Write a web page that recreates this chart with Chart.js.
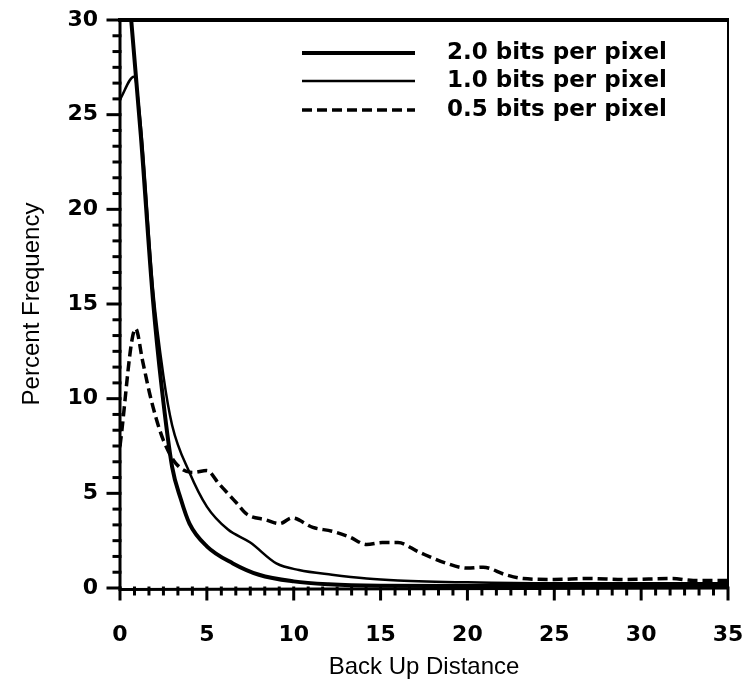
<!DOCTYPE html>
<html>
<head>
<meta charset="utf-8">
<script src="https://cdn.jsdelivr.net/npm/chart.js@4.4.1/dist/chart.umd.min.js"></script>
<style>
  html, body { margin: 0; padding: 0; background: #fff; }
</style>
</head>
<body>
<canvas id="chart" width="748" height="684"></canvas>
<script>
// back up distance (x) and percent frequency (y) for each bit rate
const dist20 = [0, 1.2, 1.9, 2.4, 3.0, 3.5, 4.0, 5.0, 6.5, 8.0, 10.0, 12.0, 15.0, 20.0, 25.0, 30.0, 35.0];
const freq20 = [37, 23.9, 15.2, 10.6, 6.4, 4.7, 3.4, 2.2, 1.3, 0.7, 0.35, 0.2, 0.12, 0.1, 0.1, 0.1, 0.1];

const dist10 = [0, 0.8, 1.2, 1.9, 2.5, 3.0, 4.0, 5.0, 6.2, 7.5, 9.0, 10.3, 12.2, 14.2, 16.0, 20.0, 25.0, 30.0, 35.0];
const freq10 = [25.8, 27.0, 24.4, 15.8, 11.2, 8.6, 6.1, 4.3, 3.1, 2.4, 1.3, 0.95, 0.7, 0.5, 0.4, 0.3, 0.25, 0.25, 0.25];

const dist05 = [0, 0.9, 1.3, 1.7, 2.1, 2.5, 3.2, 4.2, 5.0, 5.7, 6.7, 7.3, 8.4, 9.2, 9.9, 11.1, 12.2, 13.2, 14.2, 15.1, 16.0,
                17.2, 18.8, 20.0, 20.9, 22.2, 23.2, 25.0, 27.0, 29.0, 31.8, 33.0, 35.0];
const freq05 = [7.5, 13.7, 12.0, 10.3, 8.9, 7.8, 6.6, 6.1, 6.2, 5.5, 4.5, 3.9, 3.6, 3.4, 3.7, 3.2, 3.0, 2.7, 2.3, 2.4, 2.4,
                1.9, 1.3, 1.05, 1.1, 0.7, 0.5, 0.45, 0.5, 0.45, 0.5, 0.4, 0.4];

const seriesLabels = ["2.0 bits per pixel", "1.0 bits per pixel", "0.5 bits per pixel"];
const xTitle = "Back Up Distance";
const yTitle = "Percent Frequency";
const xMax = 35;
const yMax = 30;

function pts(xs, ys) {
  return xs.map((x, i) => ({ x: x, y: ys[i] }));
}

const tickFont = { family: "DejaVu Sans", weight: "bold", size: 22 };
const titleFont = { family: "Liberation Sans", size: 24 };

// axis frame, minor/major ticks (every 5/6 unit, major every 5)
const framePlugin = {
  id: "frame",
  afterDatasetsDraw(chart) {
    const ctx = chart.ctx;
    const a = chart.chartArea;
    const xs = chart.scales.x, ys = chart.scales.y;
    ctx.save();
    ctx.strokeStyle = "#000";
    ctx.lineCap = "square";
    ctx.lineWidth = 3;
    for (let i = 0; i <= 42; i++) {
      const px = xs.getPixelForValue(i * 5 / 6);
      const len = i % 6 === 0 ? 11 : 6;
      ctx.beginPath();
      ctx.moveTo(px, a.bottom);
      ctx.lineTo(px, a.bottom + len);
      ctx.stroke();
    }
    for (let i = 0; i <= 36; i++) {
      const py = ys.getPixelForValue(i * 5 / 6);
      const len = i % 6 === 0 ? 12 : 6;
      ctx.beginPath();
      ctx.moveTo(a.left, py);
      ctx.lineTo(a.left - len, py);
      ctx.stroke();
    }
    ctx.lineCap = "butt";
    ctx.lineWidth = 3;
    ctx.beginPath();
    ctx.moveTo(a.left, a.top - 2);
    ctx.lineTo(a.left, a.bottom + 1.5);
    ctx.lineTo(a.right + 1, a.bottom);
    ctx.stroke();
    ctx.lineWidth = 4;
    ctx.beginPath();
    ctx.moveTo(a.left - 2, a.top);
    ctx.lineTo(a.right + 1, a.top);
    ctx.stroke();
    ctx.lineWidth = 2;
    ctx.beginPath();
    ctx.moveTo(a.right, a.top);
    ctx.lineTo(a.right, a.bottom);
    ctx.stroke();
    ctx.restore();
  }
};

// legend drawn inside the plot, upper right
const legendPlugin = {
  id: "insideLegend",
  afterDraw(chart) {
    const ctx = chart.ctx;
    const rows = [53, 81, 110];
    ctx.save();
    chart.data.datasets.forEach((ds, i) => {
      const y = rows[i];
      ctx.strokeStyle = ds.borderColor;
      ctx.lineWidth = ds.borderWidth;
      ctx.setLineDash(ds.borderDash || []);
      ctx.beginPath();
      ctx.moveTo(302, y);
      ctx.lineTo(415, y);
      ctx.stroke();
      ctx.setLineDash([]);
      ctx.fillStyle = "#000";
      ctx.font = "bold 23px 'DejaVu Sans'";
      ctx.textBaseline = "middle";
      ctx.fillText(ds.label, 447, y);
    });
    ctx.restore();
  }
};

new Chart(document.getElementById("chart"), {
  type: "line",
  data: {
    datasets: [
      { label: seriesLabels[0], data: pts(dist20, freq20), borderColor: "#000", borderWidth: 4, pointRadius: 0, cubicInterpolationMode: "monotone" },
      { label: seriesLabels[1], data: pts(dist10, freq10), borderColor: "#000", borderWidth: 2.5, pointRadius: 0, cubicInterpolationMode: "monotone" },
      { label: seriesLabels[2], data: pts(dist05, freq05), borderColor: "#000", borderWidth: 3.5, borderDash: [10, 5], pointRadius: 0, cubicInterpolationMode: "monotone" }
    ]
  },
  options: {
    responsive: false,
    animation: false,
    layout: { padding: { top: 20, right: 20, left: 0, bottom: 0 } },
    plugins: { legend: { display: false }, tooltip: { enabled: false } },
    scales: {
      x: {
        type: "linear",
        min: 0,
        max: xMax,
        afterFit(scale) { scale.height = 96; scale.paddingLeft = 0; scale.paddingRight = 0; },
        border: { display: false },
        grid: { drawOnChartArea: false, drawTicks: true, tickLength: 12, tickColor: "rgba(0,0,0,0)" },
        ticks: { stepSize: 5, color: "#000", font: tickFont, padding: 22, maxRotation: 0 },
        title: { display: true, text: xTitle, color: "#000", font: titleFont, padding: { top: 0, bottom: 2 } }
      },
      y: {
        type: "linear",
        min: 0,
        max: yMax,
        afterFit(scale) { scale.width = 120; scale.paddingTop = 2; scale.paddingBottom = 0; },
        border: { display: false },
        grid: { drawOnChartArea: false, drawTicks: true, tickLength: 12, tickColor: "rgba(0,0,0,0)" },
        ticks: { stepSize: 5, color: "#000", font: tickFont, padding: 10 },
        title: { display: true, text: yTitle, color: "#000", font: titleFont, padding: { top: 18, bottom: 0 } }
      }
    }
  },
  plugins: [framePlugin, legendPlugin]
});
</script>
</body>
</html>
